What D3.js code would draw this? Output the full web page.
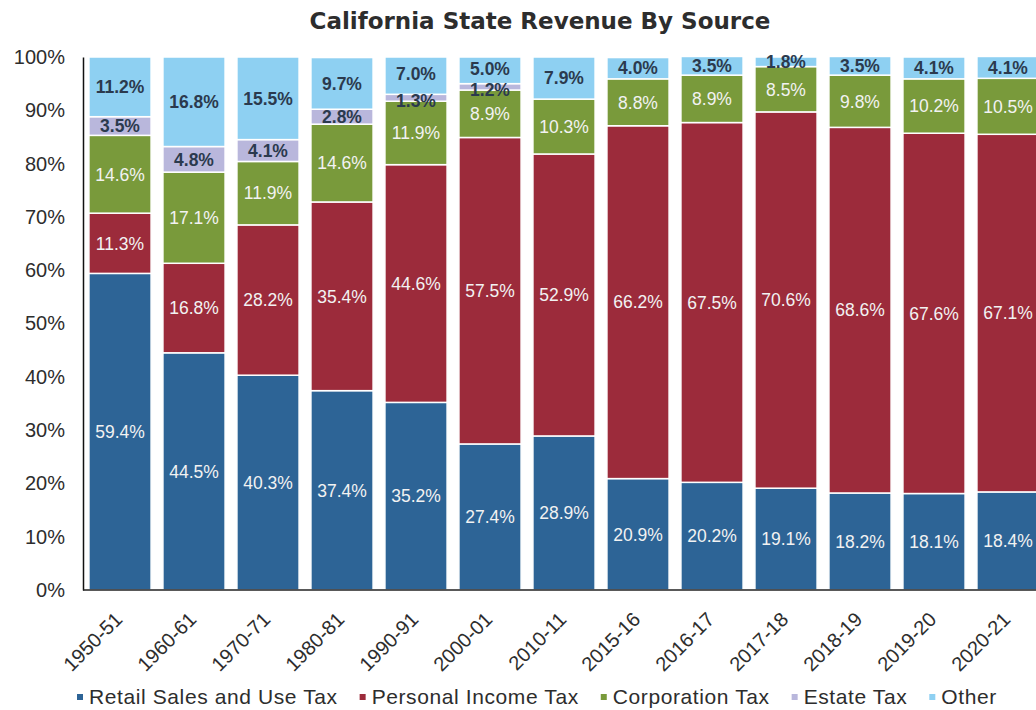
<!DOCTYPE html>
<html>
<head>
<meta charset="utf-8">
<script src="https://cdn.jsdelivr.net/npm/d3@7"></script>
<style>
  body { margin: 0; background: #fff; }
  text { font-family: "Liberation Sans", Arial, sans-serif; }
</style>
</head>
<body>
<svg id="chart" width="1036" height="710"></svg>
<script>
const years = ["1950-51", "1960-61", "1970-71", "1980-81", "1990-91", "2000-01", "2010-11",
    "2015-16", "2016-17", "2017-18", "2018-19", "2019-20", "2020-21"]

const retail = [59.4, 44.5, 40.3, 37.4, 35.2, 27.4, 28.9, 20.9, 20.2, 19.1, 18.2, 18.1, 18.4]
const personal = [11.3, 16.8, 28.2, 35.4, 44.6, 57.5, 52.9, 66.2, 67.5, 70.6, 68.6, 67.6, 67.1]
const corporation = [14.6, 17.1, 11.9, 14.6, 11.9, 8.9, 10.3, 8.8, 8.9, 8.5, 9.8, 10.2, 10.5]
const estate = [3.5, 4.8, 4.1, 2.8, 1.3, 1.2, 0, 0, 0, 0, 0, 0, 0]
const other = [11.2, 16.8, 15.5, 9.7, 7.0, 5.0, 7.9, 4.0, 3.5, 1.8, 3.5, 4.1, 4.1]

const seriesNames = ["Retail Sales and Use Tax", "Personal Income Tax", "Corporation Tax", "Estate Tax", "Other"]
const yTicks = [0, 10, 20, 30, 40, 50, 60, 70, 80, 90, 100]

const colors = ["#2d6496", "#9c2b3b", "#799a3b", "#b9b7dc", "#8ed0f2"]
const labelColors = ["#f2f2f2", "#f2f2f2", "#f2f2f2", "#2b3a4e", "#2b3a4e"]

const svg = d3.select("#chart")

const margin = {left: 83, top: 57}
const plotBottom = 590

// build rows for the stack
const keys = ["retail", "personal", "corporation", "estate", "other"]
const rows = years.map((yr, i) => ({
    year: yr,
    retail: retail[i],
    personal: personal[i],
    corporation: corporation[i],
    estate: estate[i],
    other: other[i]
}))

const stacked = d3.stack().keys(keys)(rows)

const x = d3.scaleBand()
    .domain(years)
    .range([83, 83 + 13 * 74])
    .paddingInner(0.16)
    .paddingOuter(0.08)

const y = d3.scaleLinear()
    .domain([0, 100])
    .range([plotBottom, margin.top])

// title
svg.append("text")
    .attr("x", 540)
    .attr("y", 29)
    .attr("text-anchor", "middle")
    .style("font-family", "'DejaVu Sans', sans-serif")
    .style("font-weight", "bold")
    .style("font-size", "23px")
    .attr("fill", "#2d2d2d")
    .text("California State Revenue By Source")

// bars
const layers = svg.append("g")
    .selectAll("g")
    .data(stacked)
    .join("g")
    .attr("fill", (d, i) => colors[i])

layers.selectAll("rect")
    .data(d => d)
    .join("rect")
    .attr("x", d => x(d.data.year))
    .attr("width", x.bandwidth())
    .attr("y", d => y(d[1]))
    .attr("height", d => Math.max(0, y(d[0]) - y(d[1])))
    .attr("stroke", "white")
    .attr("stroke-width", 1.5)

// segment labels
// thin estate + other slices sit on top of each other, nudge them apart a bit
const nudge = (li, d) => {
    const h = y(d[0]) - y(d[1])
    if (li === 3 && h < 8) return 3
    if (li === 4 && d.data.estate > 0 && d.data.estate < 2) return -2
    return 0
}

stacked.forEach((layer, li) => {
    svg.append("g")
        .selectAll("text")
        .data(layer.filter(d => d[1] - d[0] > 0))
        .join("text")
        .attr("x", d => x(d.data.year) + x.bandwidth() / 2)
        .attr("y", d => (y(d[0]) + y(d[1])) / 2 + nudge(li, d))
        .attr("dy", "0.36em")
        .attr("text-anchor", "middle")
        .attr("fill", labelColors[li])
        .style("font-size", "17.5px")
        .style("font-weight", li >= 3 ? "bold" : "normal")
        .text(d => (d[1] - d[0]).toFixed(1) + "%")
})

// y axis
const yAxis = d3.axisLeft(y)
    .tickValues(yTicks)
    .tickFormat(d => d + "%")
    .tickSize(0)
    .tickPadding(18)

const yG = svg.append("g")
    .attr("transform", `translate(${margin.left},0)`)
    .call(yAxis)

yG.select(".domain").attr("stroke", "#111").attr("stroke-width", 1.5)
yG.selectAll("text")
    .style("font-size", "20px")
    .attr("fill", "#2d2d2d")

// baseline
svg.append("line")
    .attr("x1", margin.left)
    .attr("x2", 1036)
    .attr("y1", plotBottom)
    .attr("y2", plotBottom)
    .attr("stroke", "#222")
    .attr("stroke-width", 1.5)

// x axis
const xAxis = d3.axisBottom(x).tickSize(0).tickPadding(8)
const xG = svg.append("g")
    .attr("transform", `translate(0,${plotBottom})`)
    .call(xAxis)

xG.select(".domain").remove()
xG.selectAll("text")
    .style("font-size", "20px")
    .attr("fill", "#2d2d2d")
    .attr("text-anchor", "end")
    .attr("dy", "0.35em")
    .attr("transform", "translate(-7,20) rotate(-45)")

// legend
const legend = svg.append("g")
    .attr("transform", `translate(77,697)`)

let lx = 0
seriesNames.forEach((name, i) => {
    const item = legend.append("g").attr("transform", `translate(${lx},0)`)
    item.append("rect")
        .attr("x", 0)
        .attr("y", -3)
        .attr("width", 6)
        .attr("height", 6)
        .attr("fill", colors[i])
    const t = item.append("text")
        .attr("x", 12)
        .attr("y", 0)
        .attr("dy", "0.35em")
        .style("font-size", "21px")
        .style("letter-spacing", "0.6px")
        .attr("fill", "#2d2d2d")
        .text(name)
    lx += 12 + t.node().getComputedTextLength() + 22
})
</script>
</body>
</html>
